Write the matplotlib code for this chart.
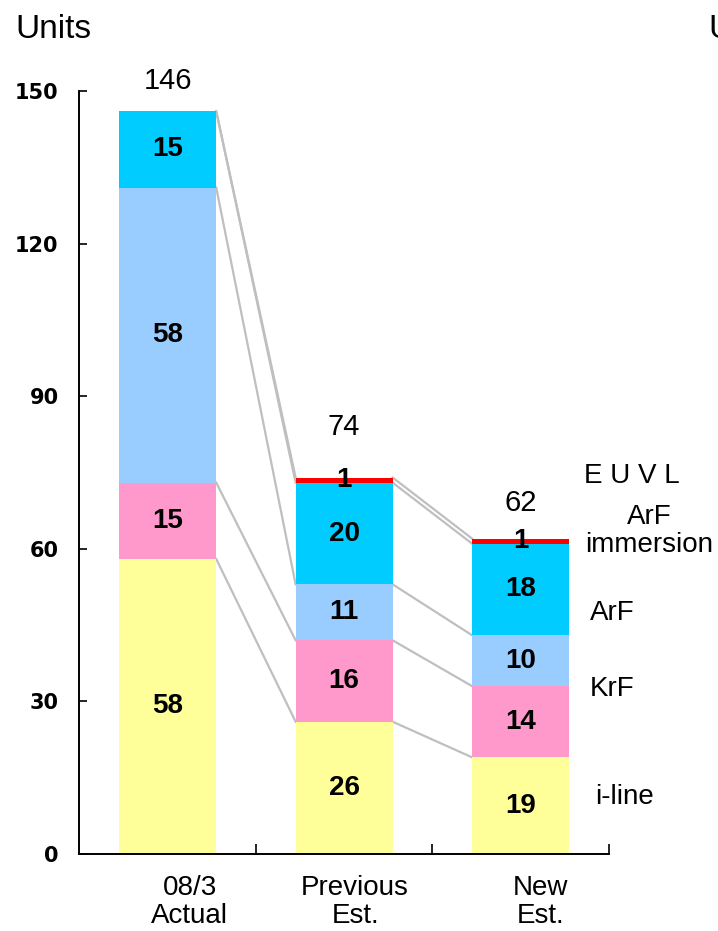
import numpy as np
import matplotlib.pyplot as plt
from matplotlib.transforms import ScaledTranslation

plt.rcParams['font.family'] = ['Liberation Sans', 'DejaVu Sans']

# data
categories = ['08/3\nActual', 'Previous\nEst.', 'New\nEst.']
series = ['i-line', 'KrF', 'ArF', 'ArF\nimmersion', 'E U V L']
i_line = [58, 26, 19]
krf = [15, 16, 14]
arf = [58, 11, 10]
arf_imm = [15, 20, 18]
euvl = [0, 1, 1]
totals = [146, 74, 62]
colors = ['#FFFF99', '#FF99CC', '#99CCFF', '#00CCFF', '#FF0000']

values = np.array([i_line, krf, arf, arf_imm, euvl], dtype=float)
x = np.arange(len(categories))
width = 0.55

fig = plt.figure(figsize=(7.18, 9.31), dpi=100)
ax = fig.add_axes([0.1107, 0.0827, 0.848 - 0.1107, 0.9023 - 0.0827])

bottom = np.zeros(len(categories))
for vals, col in zip(values, colors):
    ax.bar(x, vals, width, bottom=bottom, color=col, edgecolor='none', zorder=2)
    for xi, v, b in zip(x, vals, bottom):
        if v > 0:
            ax.text(xi, b + v / 2, str(int(v)), ha='center', va='center',
                    fontsize=20, fontweight='bold', zorder=4)
    bottom = bottom + vals

# connecting lines between segment tops
tops = np.cumsum(values, axis=0)
for row in tops:
    for i in range(len(categories) - 1):
        ax.plot([x[i] + width / 2, x[i + 1] - width / 2], [row[i], row[i + 1]],
                color='#BFBFBF', lw=1.6, zorder=1)

# totals
tot_off = [6, 10, 7]
for xi, t, o in zip(x, totals, tot_off):
    ax.text(xi, t + o, str(t), ha='center', va='center', fontsize=21)

# series labels on the right
lab_pos = [(2.59, 11.2), (2.52, 32.4), (2.52, 47.4), (2.73, 63.5), (2.63, 74.3)]
for name, (lx, ly) in zip(series, lab_pos):
    ax.text(lx, ly, name, ha='center', va='center', fontsize=20,
            linespacing=1.1, clip_on=False)

ax.set_xlim(-0.5, 2.5)
ax.set_ylim(0, 150)
ax.set_yticks(np.arange(0, 151, 30))
ax.tick_params(axis='y', direction='in', length=6, width=1.2, pad=15,
               labelsize=15)
for lbl in ax.get_yticklabels():
    lbl.set_fontweight('bold')
    lbl.set_family(['DejaVu Sans'])

ax.set_xticks(x)
ax.set_xticklabels(categories, fontsize=20, linespacing=1.1)
ax.tick_params(axis='x', length=0, pad=15)
ax.set_xticks([0.5, 1.5, 2.5], minor=True)
ax.tick_params(axis='x', which='minor', direction='in', length=7, width=1.2)
shifts = [22, 11, 20]
for lbl, s in zip(ax.get_xticklabels(), shifts):
    lbl.set_transform(lbl.get_transform() + ScaledTranslation(s / 100, 0, fig.dpi_scale_trans))

for side in ['top', 'right']:
    ax.spines[side].set_visible(False)
for side in ['left', 'bottom']:
    ax.spines[side].set_linewidth(1.4)

fig.text(15 / 718, 1 - 30 / 931, 'Units', fontsize=24, va='center', ha='left')
fig.text(708 / 718, 1 - 30 / 931, 'Units', fontsize=24, va='center', ha='left')

fig.savefig('out.png', dpi=100)
